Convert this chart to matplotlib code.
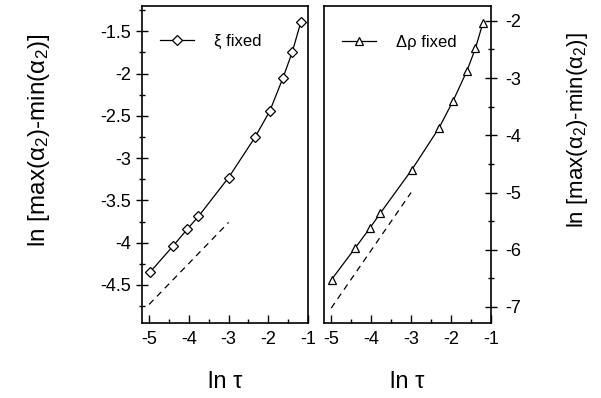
import matplotlib
matplotlib.use("Agg")
import matplotlib.pyplot as plt
from matplotlib.ticker import MultipleLocator, FixedLocator

plt.rcParams['font.family'] = ['Liberation Sans', 'DejaVu Sans']
plt.rcParams['axes.unicode_minus'] = False
plt.rcParams['mathtext.fontset'] = 'custom'
plt.rcParams['mathtext.rm'] = 'Liberation Sans'
plt.rcParams['mathtext.it'] = 'Liberation Sans'

# Left panel: xi fixed
x_xi = [-4.98, -4.40, -4.04, -3.76, -3.00, -2.33, -1.96, -1.63, -1.40, -1.18]
y_xi = [-4.35, -4.04, -3.84, -3.69, -3.23, -2.75, -2.44, -2.05, -1.75, -1.39]
dash_xi_x = [-5.0, -3.0]
dash_xi_y = [-4.73, -3.76]

# Right panel: delta rho fixed
x_dr = [-4.99, -4.40, -4.03, -3.77, -2.98, -2.30, -1.95, -1.60, -1.39, -1.20]
y_dr = [-6.52, -5.97, -5.62, -5.36, -4.60, -3.87, -3.40, -2.87, -2.48, -2.03]
dash_dr_x = [-5.0, -3.0]
dash_dr_y = [-7.02, -5.0]

xticks = [-5, -4, -3, -2, -1]
left_yticks = [-1.5, -2, -2.5, -3, -3.5, -4, -4.5]
right_yticks = [-2, -3, -4, -5, -6, -7]

ylabel = "ln [max(α$_2$)-min(α$_2$)]"
xlabel = "ln τ"

fig = plt.figure(figsize=(6.01, 3.98), dpi=100)
W, H = 601, 398
def rect(x0, y0, x1, y1):
    return [x0 / W, 1 - y1 / H, (x1 - x0) / W, (y1 - y0) / H]

axL = fig.add_axes(rect(142, 6, 308, 323))
axR = fig.add_axes(rect(324, 6, 491, 323))

for ax in (axL, axR):
    ax.set_xlim(-5.18, -1.0)
    ax.xaxis.set_major_locator(FixedLocator(xticks))
    ax.xaxis.set_minor_locator(MultipleLocator(0.5))
    ax.tick_params(axis='x', which='major', direction='in', length=6, width=1, labelsize=13, pad=6)
    ax.tick_params(axis='x', which='minor', direction='in', length=3, width=1)
    for s in ax.spines.values():
        s.set_linewidth(1.2)
    ax.set_xlabel(xlabel, fontsize=17, labelpad=16)

axL.plot(x_xi, y_xi, color='black', lw=0.9, marker='D', ms=5.5, mfc='white', mec='black', mew=0.9,
         label="ξ fixed")
axL.plot(dash_xi_x, dash_xi_y, color='black', lw=0.9, ls=(0, (5, 4)))
axL.set_ylim(-4.95, -1.2)
axL.yaxis.set_major_locator(FixedLocator(left_yticks))
axL.yaxis.set_minor_locator(MultipleLocator(0.25))
axL.set_yticklabels([str(t) if t != int(t) else str(int(t)) for t in left_yticks])
axL.tick_params(axis='y', which='major', direction='inout', length=8, width=1, labelsize=13, pad=4)
axL.tick_params(axis='y', which='minor', direction='inout', length=5, width=1)
axL.set_ylabel(ylabel, fontsize=17.5)
axL.yaxis.set_label_coords(-0.545, 0.577)
axL.legend(loc='upper left', frameon=False, fontsize=12, handlelength=2.0, handletextpad=1.2,
           bbox_to_anchor=(0.02, 0.96))

axR.plot(x_dr, y_dr, color='black', lw=0.9, marker='^', ms=5.5, mfc='white', mec='black', mew=0.9,
         label="Δρ fixed")
axR.plot(dash_dr_x, dash_dr_y, color='black', lw=0.9, ls=(0, (5, 4)))
axR.set_ylim(-7.28, -1.74)
axR.yaxis.tick_right()
axR.yaxis.set_label_position('right')
axR.yaxis.set_major_locator(FixedLocator(right_yticks))
axR.yaxis.set_minor_locator(MultipleLocator(0.5))
axR.tick_params(axis='y', which='major', direction='inout', length=8, width=1, labelsize=13, pad=6)
axR.tick_params(axis='y', which='minor', direction='inout', length=5, width=1)
axR.set_ylabel(ylabel, fontsize=16)
axR.yaxis.set_label_coords(1.443, 0.609)
axR.legend(loc='upper left', frameon=False, fontsize=12, handlelength=2.0, handletextpad=1.2,
           bbox_to_anchor=(0.02, 0.955))

fig.savefig("out.png", dpi=100)
